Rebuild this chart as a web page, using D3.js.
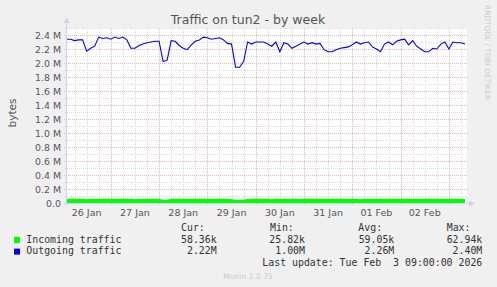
<!DOCTYPE html>
<html>
<head>
<meta charset="utf-8">
<script src="https://cdn.jsdelivr.net/npm/d3@7"></script>
<style>
  body { margin: 0; background: #f0f0f0; }
  svg { display: block; }
</style>
</head>
<body>
<svg id="chart" width="497" height="287"></svg>
<script>
// values every 2 hours from 26 Jan 02:00 (bytes per second, in M)
const seriesStart = new Date(2026, 0, 26, 2, 0);
const stepHours = 2;

const outgoing = [
  2.34, 2.34, 2.32, 2.33, 2.33, 2.17, 2.21, 2.24, 2.37, 2.35,
  2.36, 2.34, 2.37, 2.35, 2.37, 2.33, 2.21, 2.21, 2.25, 2.27,
  2.29, 2.30, 2.31, 2.31, 2.02, 2.04, 2.32, 2.31, 2.25, 2.21,
  2.19, 2.26, 2.31, 2.33, 2.37, 2.36, 2.34, 2.35, 2.36, 2.33,
  2.28, 2.27, 1.94, 1.94, 2.02, 2.30, 2.27, 2.30, 2.30, 2.30,
  2.27, 2.24, 2.30, 2.16, 2.29, 2.27, 2.21, 2.24, 2.27, 2.30,
  2.27, 2.29, 2.27, 2.28, 2.19, 2.16, 2.16, 2.19, 2.21, 2.22,
  2.23, 2.26, 2.30, 2.27, 2.29, 2.30, 2.23, 2.20, 2.16, 2.27,
  2.30, 2.26, 2.31, 2.33, 2.34, 2.26, 2.32, 2.24, 2.20, 2.16,
  2.16, 2.21, 2.20, 2.27, 2.30, 2.20, 2.30, 2.29, 2.29, 2.27
];

const incoming = [
  0.060, 0.061, 0.060, 0.061, 0.060, 0.055, 0.060, 0.061, 0.058, 0.061,
  0.060, 0.061, 0.060, 0.061, 0.060, 0.061, 0.060, 0.055, 0.060, 0.056,
  0.061, 0.060, 0.061, 0.060, 0.045, 0.046, 0.060, 0.061, 0.060, 0.061,
  0.060, 0.061, 0.060, 0.061, 0.060, 0.061, 0.060, 0.061, 0.060, 0.061,
  0.060, 0.058, 0.048, 0.048, 0.050, 0.058, 0.060, 0.061, 0.060, 0.061,
  0.060, 0.055, 0.060, 0.061, 0.060, 0.061, 0.060, 0.061, 0.056, 0.061,
  0.060, 0.061, 0.060, 0.061, 0.060, 0.061, 0.060, 0.061, 0.060, 0.061,
  0.060, 0.061, 0.060, 0.055, 0.060, 0.061, 0.060, 0.061, 0.060, 0.061,
  0.060, 0.061, 0.060, 0.061, 0.060, 0.061, 0.056, 0.060, 0.061, 0.060,
  0.061, 0.060, 0.061, 0.060, 0.061, 0.060, 0.061, 0.060, 0.061, 0.058
];

const yTicks = [0, 0.2, 0.4, 0.6, 0.8, 1.0, 1.2, 1.4, 1.6, 1.8, 2.0, 2.2, 2.4];
const yMinor = [0.1, 0.3, 0.5, 0.7, 0.9, 1.1, 1.3, 1.5, 1.7, 1.9, 2.1, 2.3, 2.5];

const legendNames = ["Incoming traffic", "Outgoing traffic"];
const legendColors = ["#00ff00", "#0000ff"];
const legendHeaders = ["Cur:", "Min:", "Avg:", "Max:"];
const legendValues = [
  ["58.36k", "25.82k", "59.05k", "62.94k"],
  ["2.22M", "1.00M", "2.26M", "2.40M"]
];
const lastUpdate = "Last update: Tue Feb  3 09:00:00 2026";

const svg = d3.select("#chart");
const plotLeft = 67, plotRight = 467, plotTop = 28, plotBottom = 203;

const xEnd = new Date(2026, 1, 3, 9, 0);
const xStart = new Date(xEnd.getTime() - 198.76 * 3600 * 1000);
const x = d3.scaleTime().domain([xStart, xEnd]).range([plotLeft, plotRight]);
const y = d3.scaleLinear().domain([0, 2.5]).range([plotBottom, plotTop]);

const data = outgoing.map((v, i) => ({
  t: new Date(seriesStart.getTime() + i * stepHours * 3600 * 1000),
  out: v,
  inc: incoming[i]
}));

svg.append("rect").attr("width", 497).attr("height", 287).attr("fill", "#f0f0f0");
svg.append("rect").attr("x", plotLeft).attr("y", plotTop).attr("width", plotRight - plotLeft).attr("height", plotBottom - plotTop).attr("fill", "#ffffff");

svg.append("defs").append("clipPath").attr("id", "plotclip")
  .append("rect").attr("x", plotLeft).attr("y", plotTop).attr("width", plotRight - plotLeft).attr("height", plotBottom - plotTop);

// grid
const grid = svg.append("g").attr("shape-rendering", "crispEdges");
const minorTimes = d3.timeHour.every(6).range(xStart, xEnd).filter(d => d.getHours() !== 0);
const dayTimes = d3.timeDay.range(xStart, xEnd);
const minorColor = "#dcdcdc", majorColor = "#eeb4b4";

grid.selectAll(".vminor").data(minorTimes).join("line")
  .attr("x1", d => Math.round(x(d)) + 0.5).attr("x2", d => Math.round(x(d)) + 0.5)
  .attr("y1", plotTop).attr("y2", plotBottom + 2)
  .attr("stroke", minorColor).attr("stroke-dasharray", "1,1");
grid.selectAll(".hminor").data(yMinor).join("line")
  .attr("x1", plotLeft - 2).attr("x2", plotRight)
  .attr("y1", d => Math.round(y(d)) + 0.5).attr("y2", d => Math.round(y(d)) + 0.5)
  .attr("stroke", minorColor).attr("stroke-dasharray", "1,1");
grid.selectAll(".vmajor").data(dayTimes).join("line")
  .attr("x1", d => Math.round(x(d)) + 0.5).attr("x2", d => Math.round(x(d)) + 0.5)
  .attr("y1", plotTop).attr("y2", plotBottom + 3)
  .attr("stroke", majorColor).attr("stroke-dasharray", "1,1");
grid.selectAll(".hmajor").data(yTicks.slice(1)).join("line")
  .attr("x1", plotLeft - 3).attr("x2", plotRight)
  .attr("y1", d => Math.round(y(d)) + 0.5).attr("y2", d => Math.round(y(d)) + 0.5)
  .attr("stroke", majorColor).attr("stroke-dasharray", "1,1");

// axes
const axisColor = "#cdd2f2";
svg.append("line").attr("x1", plotLeft - 0.5).attr("x2", plotLeft - 0.5).attr("y1", plotBottom + 3).attr("y2", plotTop - 6)
  .attr("stroke", axisColor);
svg.append("line").attr("x1", plotLeft - 3).attr("x2", plotRight + 3).attr("y1", plotBottom + 0.5).attr("y2", plotBottom + 0.5)
  .attr("stroke", axisColor);
svg.append("path").attr("d", `M${plotLeft - 3.5},${plotTop - 5} L${plotLeft - 0.5},${plotTop - 11} L${plotLeft + 2.5},${plotTop - 5} Z`).attr("fill", axisColor);
svg.append("path").attr("d", `M${plotRight + 2},${plotBottom - 2.5} L${plotRight + 8},${plotBottom + 0.5} L${plotRight + 2},${plotBottom + 3.5} Z`).attr("fill", axisColor);

// series
const plot = svg.append("g").attr("clip-path", "url(#plotclip)");
plot.append("path").datum(data)
  .attr("fill", "#00ff00")
  .attr("d", d3.area().x(d => x(d.t)).y0(y(0)).y1(d => y(d.inc)));
plot.append("path").datum(data)
  .attr("fill", "none").attr("stroke", "#0000ff").attr("stroke-width", 1.1)
  .attr("d", d3.line().x(d => x(d.t)).y(d => y(d.out)));

// labels
const labelFont = "DejaVu Sans";
svg.append("g").selectAll("text").data(yTicks).join("text")
  .attr("x", 61).attr("y", d => y(d) + 3.5)
  .attr("text-anchor", "end").attr("font-family", labelFont).attr("font-size", 9.4).attr("fill", "#555")
  .text(d => d === 0 ? "0.0" : d3.format(".1f")(d) + " M");

const noonTimes = dayTimes.map(d => d3.timeHour.offset(d, 12)).concat([d3.timeHour.offset(d3.timeDay.floor(xStart), 12)])
  .filter(d => d >= xStart && d <= xEnd);
svg.append("g").selectAll("text").data(noonTimes).join("text")
  .attr("x", d => x(d)).attr("y", 216)
  .attr("text-anchor", "middle").attr("font-family", labelFont).attr("font-size", 9.5).attr("fill", "#555")
  .text(d => d3.timeFormat("%d %b")(d));

svg.append("text").attr("x", 248).attr("y", 24).attr("text-anchor", "middle")
  .attr("font-family", labelFont).attr("font-size", 12.5).attr("fill", "#555")
  .text("Traffic on tun2 - by week");

svg.append("text").attr("transform", "translate(16,113) rotate(-90)").attr("text-anchor", "middle")
  .attr("font-family", labelFont).attr("font-size", 10.5).attr("fill", "#555")
  .text("bytes");

svg.append("text").attr("transform", "translate(485,5) rotate(90)")
  .attr("font-family", labelFont).attr("font-size", 7.4).attr("fill", "#cccccc")
  .text("RRDTOOL / TOBI OETIKER");

// legend
const mono = "DejaVu Sans Mono";
const headerX = [181, 270, 358.3, 446.7];
const valueX = [216.7, 305, 394.3, 482.3];
const legend = svg.append("g").attr("font-family", mono).attr("font-size", 9.9).attr("fill", "#333");

legend.selectAll(".hdr").data(legendHeaders).join("text")
  .attr("x", (d, i) => headerX[i]).attr("y", 231).text(d => d);

legendNames.forEach((name, r) => {
  const yy = 242.8 + r * 11.6;
  legend.append("rect").attr("x", 14).attr("y", yy - 5.8).attr("width", 6).attr("height", 6)
    .attr("fill", legendColors[r]);
  legend.append("text").attr("x", 26.3).attr("y", yy).text(name);
  legend.selectAll(".v" + r).data(legendValues[r]).join("text")
    .attr("x", (d, i) => valueX[i]).attr("y", yy).attr("text-anchor", "end").text(d => d);
});

legend.append("text").attr("x", 482.3).attr("y", 266).attr("text-anchor", "end")
  .attr("xml:space", "preserve").style("white-space", "pre").text(lastUpdate);

svg.append("text").attr("x", 248).attr("y", 279).attr("text-anchor", "middle")
  .attr("font-family", labelFont).attr("font-size", 7.6).attr("fill", "#cccccc")
  .text("Munin 2.0.75");
</script>
</body>
</html>
